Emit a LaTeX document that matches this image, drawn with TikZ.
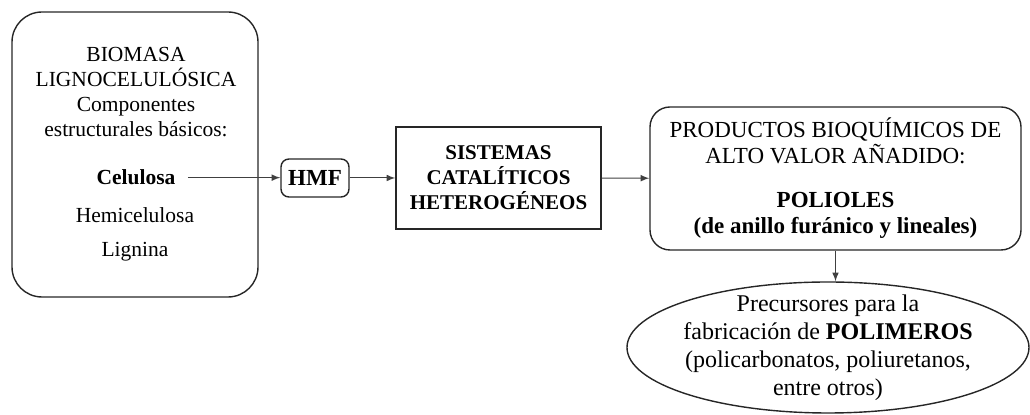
\documentclass[tikz,border=0pt]{standalone}
\usepackage{fontspec}
\setmainfont{Liberation Serif}
\usetikzlibrary{shapes.geometric, arrows}
\usetikzlibrary{positioning}
\tikzstyle{roundbox} = [rectangle, rounded corners=15pt, draw=black!85, line width=0.7pt, minimum width=123pt, minimum height=142.5pt]
\tikzstyle{label} = [inner sep=0pt, text centered]
\tikzstyle{smallbox} = [rectangle, rounded corners=4pt, draw=black!85, line width=0.7pt, minimum width=34pt, minimum height=19pt, font=\fontsize{11.5}{13}\selectfont\bfseries]
\tikzstyle{process} = [rectangle, draw=black!85, line width=0.7pt, minimum width=102.5pt, minimum height=51pt, align=center, font=\fontsize{10.5}{12.5}\selectfont\bfseries]
\tikzstyle{product} = [rectangle, rounded corners=10pt, draw=black!85, line width=0.7pt, minimum width=185.5pt, minimum height=71.5pt, align=center, font=\fontsize{11.5}{13}\selectfont]
\tikzstyle{result} = [ellipse, draw=black!85, line width=0.7pt, minimum width=201pt, minimum height=65.5pt, inner xsep=-2pt, inner ysep=-8pt, align=center, font=\fontsize{12}{14}\selectfont]
\tikzstyle{arrow} = [draw=black!75, line width=0.5pt, ->, >=latex]

\begin{document}
\begin{tikzpicture}[x=0.5pt, y=-0.5pt, font=\fontsize{10.75}{12.5}\selectfont]
 \useasboundingbox (0,0) rectangle (1030,415);

 \node (biomasa) [roundbox] at (135,154.5) {};
 \node (titulo) [label, align=center] at (136,92) {BIOMASA\\LIGNOCELULÓSICA\\Componentes\\estructurales básicos:};
 \node (celulosa) [label, anchor=base, font=\fontsize{10.75}{12.5}\selectfont\bfseries] at (136,185) {Celulosa};
 \node (hemicelulosa) [label, anchor=base] at (135,223) {Hemicelulosa};
 \node (lignina) [label, anchor=base] at (135,257) {Lignina};

 \node (HMF) [smallbox] at (315,178) {HMF};
 \node (sistemas) [process] at (498.5,178) {SISTEMAS\\CATALÍTICOS\\HETEROGÉNEOS};
 \node (productos) [product] at (835.5,178.5) {PRODUCTOS BIOQUÍMICOS DE\\ALTO VALOR AÑADIDO:\\[9pt]\textbf{POLIOLES}\\\textbf{(de anillo furánico y lineales)}};
 \node (polimeros) [result] at (828,347.5) {Precursores para la\\fabricación de \textbf{POLIMEROS}\\(policarbonatos, poliuretanos,\\entre otros)};

 \draw [arrow] (celulosa.east) ++(12,0) -- (celulosa.east -| HMF.west);
 \draw [arrow] (HMF) -- (sistemas);
 \draw [arrow] (sistemas) -- (productos);
 \draw [arrow] (productos.south) -- (productos.south |- polimeros.north);

\end{tikzpicture}
\end{document}
